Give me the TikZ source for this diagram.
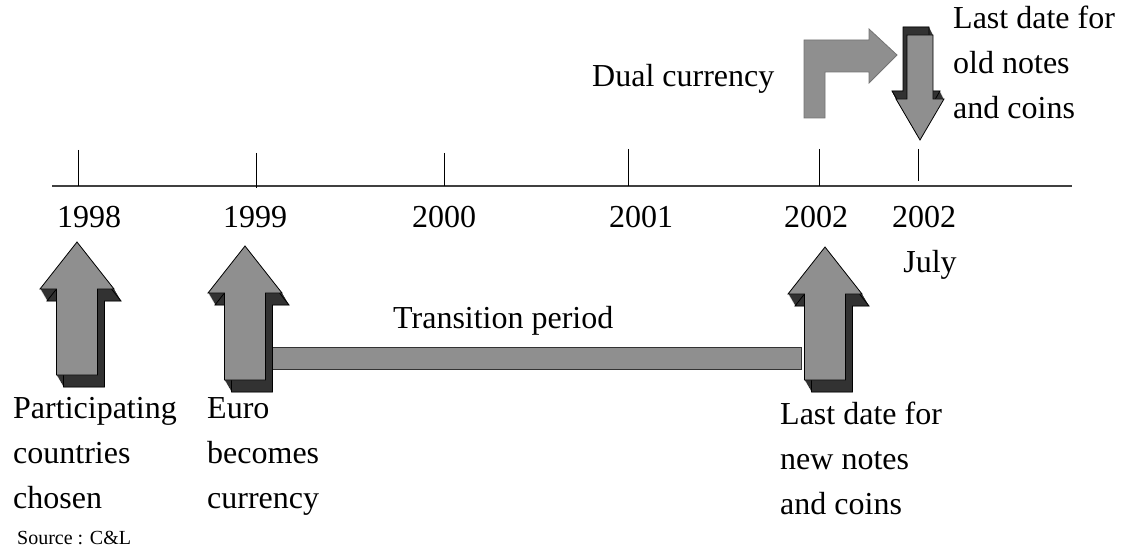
\documentclass[tikz,border=0pt]{standalone}
\usepackage{fontspec}
\setmainfont{Liberation Serif}

\definecolor{facegray}{RGB}{143,143,143}
\definecolor{shadegray}{RGB}{50,50,50}

\tikzset{
	face/.style={fill=facegray, draw=black, line width=0.8pt},
	shade/.style={fill=shadegray, draw=black, line width=0.8pt},
	txt/.style={font=\fontsize{32}{45}\selectfont, inner sep=0pt, anchor=base west},
	year/.style={font=\fontsize{32}{45}\selectfont, inner sep=0pt, anchor=base},
}

% rows of text, baseline on the first row
\newcommand{\textlines}[1]{\begin{tabular}[t]{@{}l@{}}#1\end{tabular}}

% outline of an up arrow: centre x, tip y, bottom y
\newcommand{\uparrowpath}[3]{(#1-20.5,#3) -- (#1-20.5,#2+47) -- (#1-37,#2+47) -- (#1,#2) -- (#1+37,#2+47) -- (#1+20.5,#2+47) -- (#1+20.5,#3) -- cycle}

% up arrow with its dark side below right
\newcommand{\bigup}[3]{%
	\foreach \s in {1,...,12}
		\fill[shadegray, shift={(7*\s/12,\s)}] \uparrowpath{#1}{#2}{#3};
	\draw[shade, shift={(7,12)}] \uparrowpath{#1}{#2}{#3};
	\draw[face] \uparrowpath{#1}{#2}{#3};
}

\newcommand{\downarrowpath}{(907,35) -- (933,35) -- (933,99) -- (944,99) -- (920,140) -- (896,99) -- (907,99) -- cycle}

\begin{document}
\begin{tikzpicture}[x=1pt, y=-1pt]
	\useasboundingbox (0,0) rectangle (1137,548);

	% time axis
	\coordinate (axisL) at (52,186);
	\coordinate (axisR) at (1072,186);
	\draw [line width=1.5pt, black!75] (axisL) -- (axisR);
	\foreach \x/\top/\bot in {78/150/186, 256/153/188, 444/153/186, 628/149/186, 819/149/186, 918/149/181}
		\draw [line width=0.8pt] (\x,\top) -- (\x,\bot);

	\node [year] (y98) at (89,227) {1998};
	\node [year] (y99) at (255,227) {1999};
	\node [year] (y00) at (444,227) {2000};
	\node [year] (y01) at (641,227) {2001};
	\node [year] (y02) at (816,227) {2002};
	\node [year] (y02b) at (924,227) {2002};
	\node [year] (july) at (930,272) {July};

	% transition bar
	\draw [fill=facegray, draw=black!80, line width=0.8pt] (271,347) rectangle (801,369);
	\node [txt] (trans) at (393,328) {Transition period};

	% up arrows
	\bigup{77}{242}{375}
	\bigup{245}{246}{380}
	\bigup{825}{247}{380}

	% bent arrow
	\draw [fill=facegray, draw=black!55, line width=0.8pt] (804,118) -- (804,40) -- (869,40) -- (869,29) -- (897,55) -- (869,83) -- (869,72) -- (825,72) -- (825,118) -- cycle;
	\node [txt] (dual) at (592,87) {Dual currency};

	% down arrow, dark side above left
	\foreach \s in {1,...,8}
		\fill[shadegray, shift={(-4*\s/8,-\s)}] \downarrowpath;
	\draw [shade, shift={(-4,-8)}] \downarrowpath;
	\draw [face] \downarrowpath;

	% captions
	\node [txt] (oldnotes) at (953,29) {\textlines{Last date for\\old notes\\and coins}};
	\node [txt] (chosen) at (13,418) {\textlines{Participating\\countries\\chosen}};
	\node [txt] (euro) at (207,418) {\textlines{Euro\\becomes\\currency}};
	\node [txt] (newnotes) at (780,424) {\textlines{Last date for\\new notes\\and coins}};
	\node [inner sep=0pt, anchor=base west, font=\fontsize{20}{24}\selectfont] (source) at (17,544) {Source : C\&L};
\end{tikzpicture}
\end{document}
